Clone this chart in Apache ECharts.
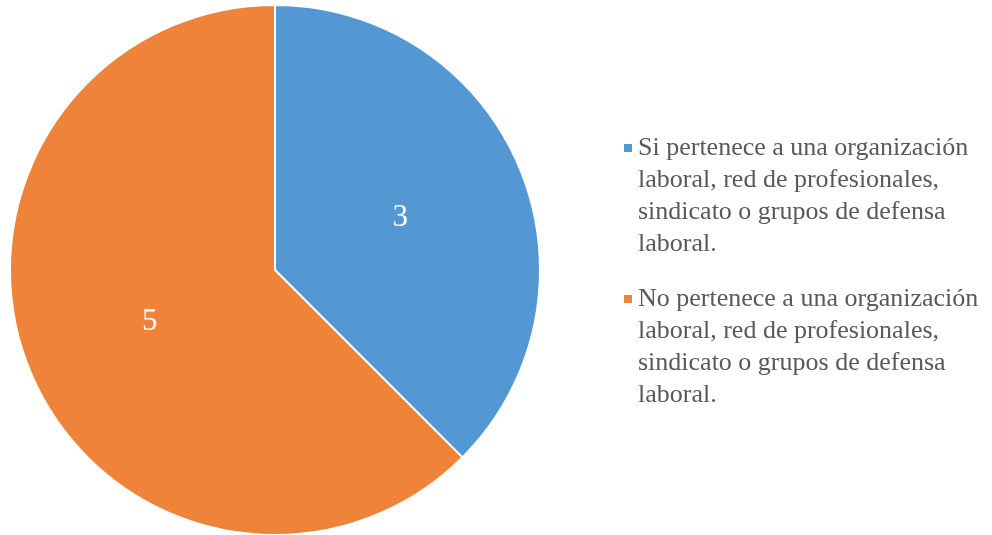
<!DOCTYPE html>
<html>
<head>
<meta charset="utf-8">
<script src="https://cdn.jsdelivr.net/npm/echarts@6/dist/echarts.min.js"></script>
<style>
  html, body { margin: 0; padding: 0; background: #ffffff; }
  #chart { width: 992px; height: 535px; }
</style>
</head>
<body>
<div id="chart"></div>
<script>
// Membership in labour organisations
const categories = [
  'Si pertenece a una organización\nlaboral, red de profesionales,\nsindicato o grupos de defensa\nlaboral.',
  'No pertenece a una organización\nlaboral, red de profesionales,\nsindicato o grupos de defensa\nlaboral.'
];
const counts = [3, 5];
const colors = ['#5398D3', '#EF833A'];

const chart = echarts.init(document.getElementById('chart'));

chart.setOption({
  animation: false,
  backgroundColor: '#ffffff',
  color: colors,
  legend: {
    orient: 'vertical',
    left: 622,
    top: 36,
    padding: 0,
    itemGap: -73,
    itemWidth: 10,
    itemHeight: 10,
    icon: 'rect',
    selectedMode: false,
    // legend text is centred on the marker; leading blank lines keep the
    // marker level with the first line of each multi-line entry
    formatter: name => '\n\n\n' + name,
    textStyle: {
      fontFamily: 'Liberation Serif',
      fontSize: 26,
      lineHeight: 32,
      color: '#595959'
    }
  },
  series: [{
    type: 'pie',
    center: [275, 270],
    radius: 265,
    startAngle: 90,
    clockwise: true,
    itemStyle: { borderColor: '#ffffff', borderWidth: 2 },
    label: {
      position: 'inside',
      formatter: '{c}',
      fontFamily: 'Liberation Serif',
      fontSize: 31,
      color: '#ffffff'
    },
    labelLine: { show: false },
    emphasis: { disabled: true },
    data: categories.map((name, i) => ({ name: name, value: counts[i] }))
  }]
});
</script>
</body>
</html>
